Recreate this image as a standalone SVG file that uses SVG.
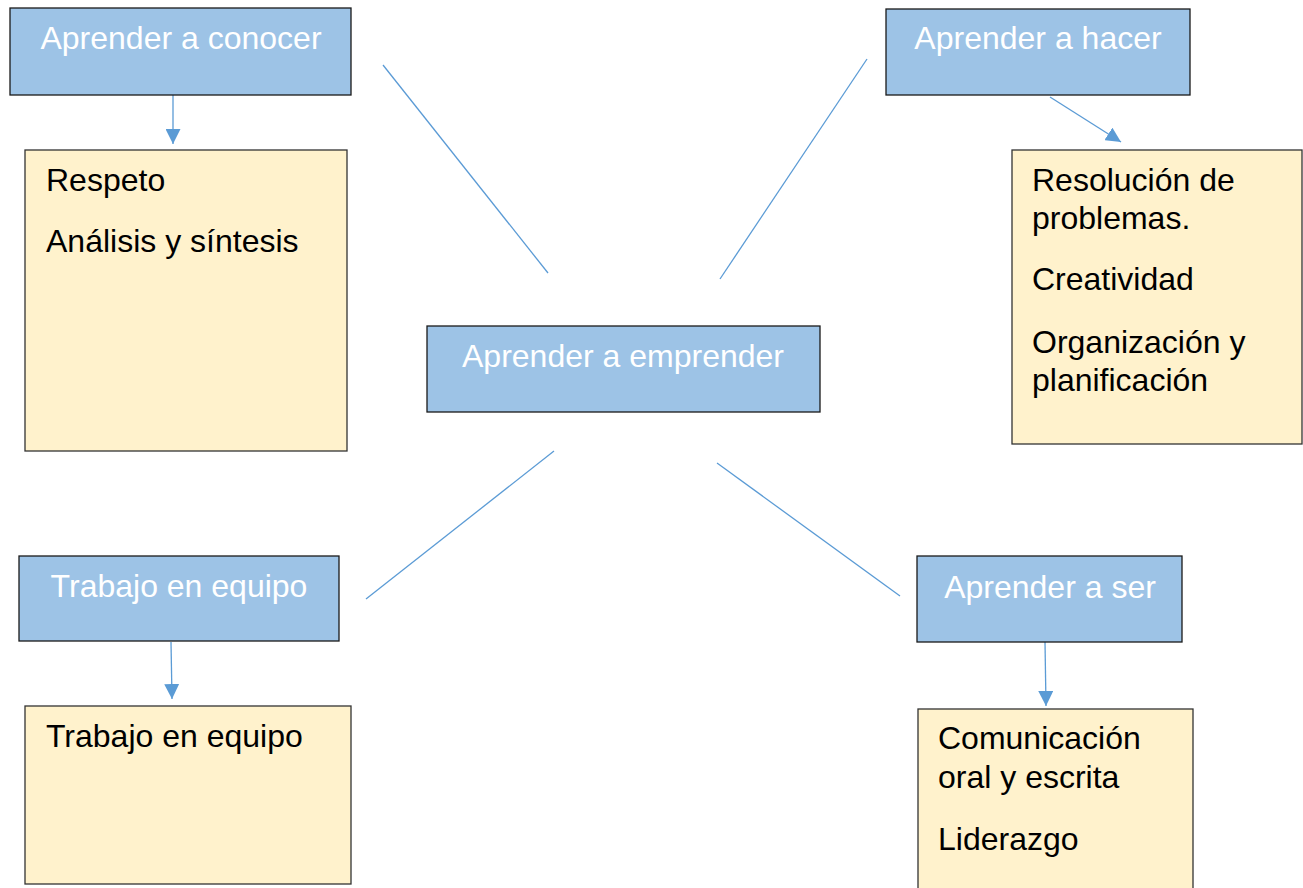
<svg xmlns="http://www.w3.org/2000/svg" width="1303" height="888" viewBox="0 0 1303 888">
<style>
.hd{fill:#9DC3E6;stroke:#1a1a1a;stroke-width:1.3}
.bx{fill:#FFF2CC;stroke:#333;stroke-width:1.3}
.ht{fill:#fff;font-family:"Liberation Sans",Arial,sans-serif;font-size:32px;text-anchor:middle}
.bt{fill:#000;font-family:"Liberation Sans",Arial,sans-serif;font-size:32px}
.ln{stroke:#5B9BD5;stroke-width:1.3;fill:none}
</style>
<defs>
<marker id="ah" viewBox="0 0 10 10" refX="10" refY="5" markerWidth="15" markerHeight="15" markerUnits="userSpaceOnUse" orient="auto">
<path d="M0,0 L10,5 L0,10 z" fill="#5B9BD5"/>
</marker>
</defs>
<rect width="1303" height="888" fill="#fff"/>
<g id="connectors">
<line class="ln" x1="173" y1="95" x2="173" y2="144" marker-end="url(#ah)"/>
<line class="ln" x1="1050" y1="97" x2="1121" y2="142" marker-end="url(#ah)"/>
<line class="ln" x1="171" y1="642" x2="172" y2="699" marker-end="url(#ah)"/>
<line class="ln" x1="1045" y1="642" x2="1046" y2="706" marker-end="url(#ah)"/>
<line class="ln" x1="383" y1="65" x2="548" y2="273"/>
<line class="ln" x1="867" y1="59" x2="720" y2="279"/>
<line class="ln" x1="554" y1="451" x2="366" y2="599"/>
<line class="ln" x1="717" y1="463" x2="900" y2="596"/>
</g>
<g id="conocer">
<rect class="hd" x="10" y="8" width="341" height="87"/>
<text class="ht" x="181" y="49">Aprender a conocer</text>
</g>
<g id="conocer-items">
<rect class="bx" x="25" y="150" width="322" height="301"/>
<text class="bt" x="46" y="191">Respeto</text>
<text class="bt" x="46" y="252">Análisis y síntesis</text>
</g>
<g id="hacer">
<rect class="hd" x="886" y="9" width="304" height="86"/>
<text class="ht" x="1038" y="49">Aprender a hacer</text>
</g>
<g id="hacer-items">
<rect class="bx" x="1012" y="150" width="290" height="294"/>
<text class="bt" x="1032" y="191">Resolución de</text>
<text class="bt" x="1032" y="229">problemas.</text>
<text class="bt" x="1032" y="290">Creatividad</text>
<text class="bt" x="1032" y="353">Organización y</text>
<text class="bt" x="1032" y="391">planificación</text>
</g>
<g id="emprender">
<rect class="hd" x="427" y="326" width="393" height="86"/>
<text class="ht" x="623" y="367">Aprender a emprender</text>
</g>
<g id="equipo">
<rect class="hd" x="19" y="556" width="320" height="85"/>
<text class="ht" x="179" y="597">Trabajo en equipo</text>
</g>
<g id="equipo-items">
<rect class="bx" x="25" y="706" width="326" height="178"/>
<text class="bt" x="46" y="747">Trabajo en equipo</text>
</g>
<g id="ser">
<rect class="hd" x="917" y="556" width="265" height="86"/>
<text class="ht" x="1050" y="598">Aprender a ser</text>
</g>
<g id="ser-items">
<rect class="bx" x="918" y="709" width="275" height="190"/>
<text class="bt" x="938" y="749">Comunicación</text>
<text class="bt" x="938" y="788">oral y escrita</text>
<text class="bt" x="938" y="850">Liderazgo</text>
</g>
</svg>
